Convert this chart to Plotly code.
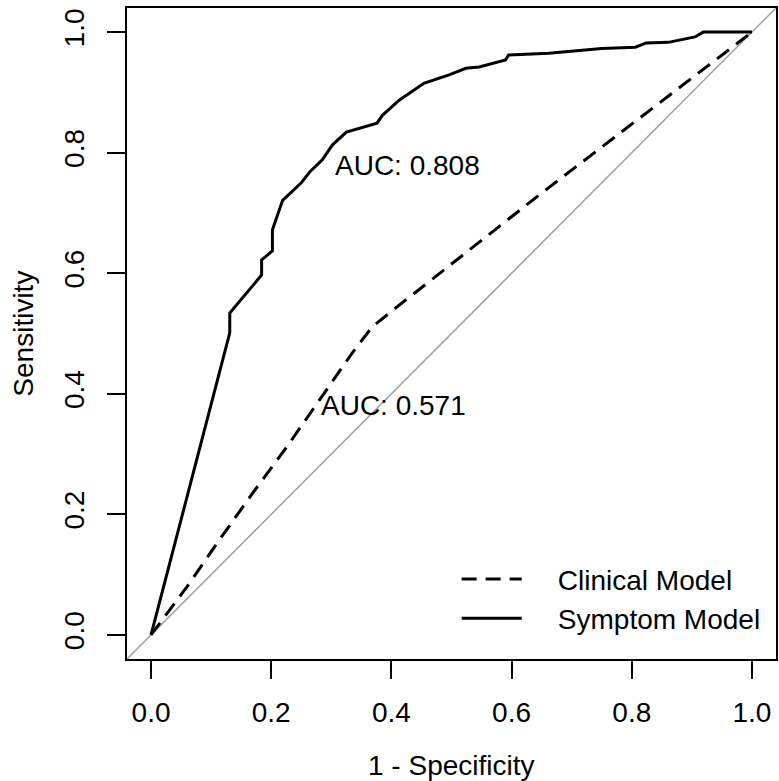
import plotly.graph_objects as go

# Symptom model ROC (1 - specificity, sensitivity)
symptom_fpr = [0.0, 0.131, 0.131, 0.184, 0.184, 0.202, 0.202, 0.219, 0.250, 0.264, 0.285,
               0.302, 0.325, 0.347, 0.363, 0.376, 0.385, 0.413, 0.454, 0.496, 0.524,
               0.546, 0.590, 0.595, 0.662, 0.750, 0.806, 0.824, 0.861, 0.905, 0.919, 1.0]
symptom_tpr = [0.0, 0.501, 0.534, 0.597, 0.622, 0.637, 0.672, 0.721, 0.750, 0.768, 0.788,
               0.813, 0.834, 0.841, 0.846, 0.849, 0.862, 0.887, 0.915, 0.929, 0.940,
               0.942, 0.954, 0.962, 0.965, 0.973, 0.975, 0.982, 0.983, 0.992, 1.0, 1.0]

# Clinical model ROC
clinical_fpr = [0.0, 0.060, 0.114, 0.169, 0.226, 0.280, 0.335, 0.368, 0.413, 0.650, 1.0]
clinical_tpr = [0.0, 0.080, 0.158, 0.235, 0.312, 0.390, 0.468, 0.511, 0.547, 0.733, 1.0]

diag = [-0.04, 1.04]
tick_vals = [0.0, 0.2, 0.4, 0.6, 0.8, 1.0]
tick_text = ["0.0", "0.2", "0.4", "0.6", "0.8", "1.0"]
auc_labels = ["AUC: 0.808", "AUC: 0.571"]
auc_pos_x = [0.302, 0.280]
auc_pos_y = [0.779, 0.381]
series_names = ["Clinical Model", "Symptom Model"]

FONT = "Liberation Sans, Arial, sans-serif"
FS = 28
GAP = "&nbsp;" * 4

fig = go.Figure()
fig.add_trace(go.Scatter(x=diag, y=diag, mode="lines",
                         line=dict(color="#a0a0a0", width=1.5), showlegend=False,
                         hoverinfo="skip"))
fig.add_trace(go.Scatter(x=clinical_fpr, y=clinical_tpr, mode="lines", name=GAP + series_names[0],
                         line=dict(color="black", width=3, dash="15px,9px")))
fig.add_trace(go.Scatter(x=symptom_fpr, y=symptom_tpr, mode="lines", name=GAP + series_names[1],
                         line=dict(color="black", width=3)))

for t, x, y in zip(auc_labels, auc_pos_x, auc_pos_y):
    fig.add_annotation(x=x, y=y, text=t, showarrow=False, xanchor="left", yanchor="middle",
                       font=dict(family=FONT, size=FS, color="black"))

fig.add_annotation(x=0.5, y=-0.163, xref="paper", yref="paper", text="1 - Specificity",
                   showarrow=False, xanchor="center", yanchor="middle",
                   font=dict(family=FONT, size=FS, color="black"))
fig.add_annotation(x=-0.16, y=0.5, xref="paper", yref="paper", text="Sensitivity",
                   showarrow=False, xanchor="center", yanchor="middle", textangle=-90,
                   font=dict(family=FONT, size=FS, color="black"))

axis_common = dict(range=[-0.04, 1.04], showgrid=False, zeroline=False,
                   showline=True, linecolor="black", linewidth=1.5, mirror=True,
                   ticks="outside", ticklen=18, tickwidth=1.5, tickcolor="black",
                   tickvals=tick_vals, ticktext=tick_text,
                   tickfont=dict(family=FONT, size=FS, color="black"))

fig.update_xaxes(**axis_common, ticklabelstandoff=10)
fig.update_yaxes(**axis_common, tickangle=-90, ticklabelstandoff=12)

fig.update_layout(
    width=779, height=781,
    margin=dict(l=127, r=1, t=8, b=122),
    paper_bgcolor="white", plot_bgcolor="white",
    font=dict(family=FONT, size=FS, color="black"),
    legend=dict(x=0.508, y=0.161, xanchor="left", yanchor="top",
                bgcolor="rgba(0,0,0,0)", itemwidth=60, tracegroupgap=0,
                font=dict(family=FONT, size=FS, color="black")),
)

fig.write_html("out.html", config={"displayModeBar": False},
               post_script="document.body.style.margin='0';")
